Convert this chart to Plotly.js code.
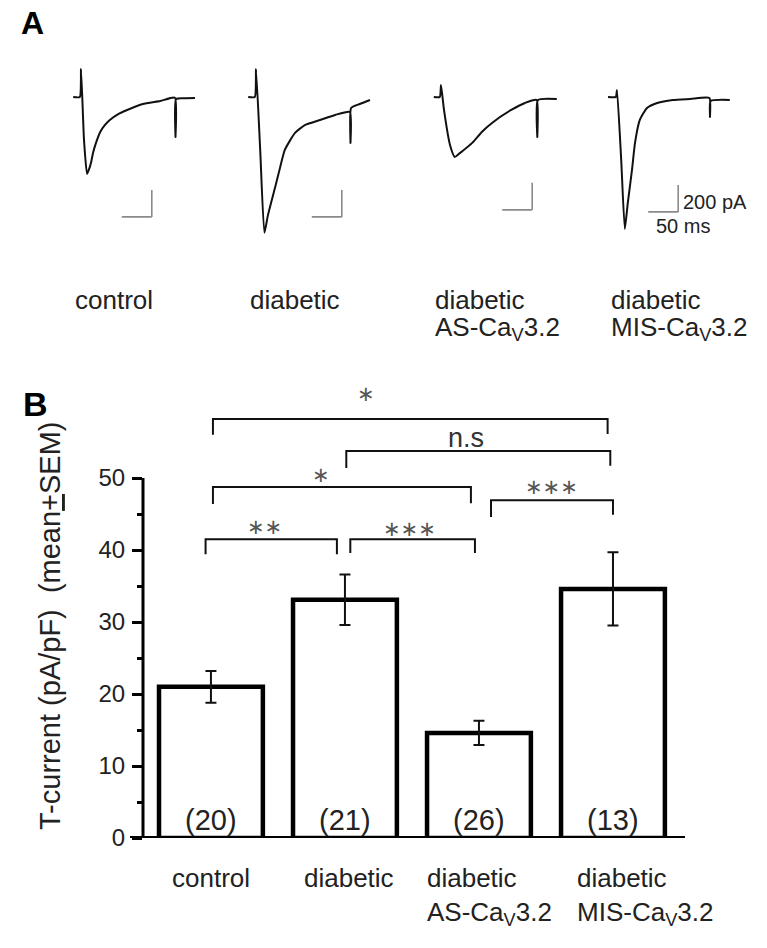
<!DOCTYPE html>
<html>
<head>
<meta charset="utf-8">
<script src="https://cdn.plot.ly/plotly-3.0.1.min.js"></script>
<style>html,body{margin:0;padding:0;background:#fff;}#chart{width:767px;height:948px;}</style>
</head>
<body>
<div id="chart"></div>
<script>
// ---------- Panel A: example current traces (time in ms, current in pA) ----------
const traceTime1 = [-13, -2, 0, 5, 10, 13, 17, 20, 25, 32, 40, 48, 62, 77, 103, 132, 156.5, 157.5, 158.5, 175, 190];
const traceCurr1 = [0, 0, 207, -318, -570, -540, -481, -414, -340, -259, -207, -170, -126, -96, -52, -30, -5, -296, -15, -10, -7];

const traceTime2 = [-13, -2, 0, 7, 14, 20, 32, 40, 48, 65, 82, 107, 132, 156.5, 157.5, 158.5, 173, 190];
const traceCurr2 = [0, 0, 207, -392, -1006, -873, -666, -525, -392, -266, -207, -170, -133, -111, -340, -81, -52, -22];

const traceTime3 = [-12, -2, 0, 5, 15, 23, 32, 52, 68, 85, 117, 140, 159.5, 160.5, 161.5, 193];
const traceCurr3 = [0, 0, 89, -96, -355, -444, -414, -340, -259, -192, -96, -44, -22, -296, -22, -15];

const traceTime4 = [-15, -2, 0, 7, 13, 18, 25, 30, 38, 50, 67, 93, 122, 154, 155, 156, 188];
const traceCurr4 = [0, 0, 52, -466, -977, -784, -540, -340, -170, -81, -44, -22, -15, -7, -148, -30, -22];

const traceTimes = [traceTime1, traceTime2, traceTime3, traceTime4];
const traceCurrs = [traceCurr1, traceCurr2, traceCurr3, traceCurr4];

// scale bars: 50 ms x 200 pA, start time and bottom current
const scaleBarT0 = [68, 93, 102, 52];
const scaleBarI0 = [-888, -888, -836, -851];
const scaleBarMs = 50;
const scaleBarPA = 200;

// ---------- Panel B: bar chart ----------
const catLine1 = ['control', 'diabetic', 'diabetic', 'diabetic'];
const catLine2 = ['', '', 'AS-Ca<sub>V</sub>3.2', 'MIS-Ca<sub>V</sub>3.2'];
const meanCurrent = [21.0, 33.1, 14.6, 34.6];
const semCurrent = [2.2, 3.5, 1.7, 5.1];
const nCells = ['(20)', '(21)', '(26)', '(13)'];
const yTickVals = [0, 10, 20, 30, 40, 50];
const yMinorVals = [5, 15, 25, 35, 45];

// significance brackets (category positions, heights in pA/pF)
const sigFrom   = [0.015, 1.01, 0.015, 2.09, -0.04, 1.04];
const sigTo     = [2.96, 2.98, 1.94, 3.0, 0.94, 1.97];
const sigTop    = [58.2, 53.75, 48.75, 46.9, 41.5, 41.5];
const sigLeftEnd  = [56.0, 51.4, 46.4, 44.6, 39.4, 39.6];
const sigRightEnd = [56.1, 51.7, 46.5, 44.9, 39.4, 39.6];
const sigLabel  = ['∗', 'n.s', '∗', '∗∗∗', '∗∗', '∗∗∗'];
const sigLabelX = [1.16, 1.9, 0.82, 2.54, 0.40, 1.48];
const sigLabelY = [61.6, 55.6, 50.4, 48.8, 43.2, 42.9];

// ---------- build ----------
const W = 767, H = 948;
const px = v => v / W;
const py = v => 1 - v / H;
const onsetPx = [81, 256, 441, 617];
const FONT = 'Liberation Sans, Arial, sans-serif';
const TXT = '#222';

const data = [];
const layout = {
  width: W, height: H,
  margin: {l: 0, r: 0, t: 0, b: 0},
  paper_bgcolor: '#fff', plot_bgcolor: 'rgba(0,0,0,0)',
  showlegend: false,
  font: {family: FONT, color: TXT},
  shapes: [], annotations: []
};

for (let k = 0; k < 4; k++) {
  const ax = k + 2;
  data.push({
    type: 'scatter', mode: 'lines',
    x: traceTimes[k], y: traceCurrs[k],
    xaxis: 'x' + ax, yaxis: 'y' + ax,
    line: {color: '#111', width: 2, shape: 'spline', smoothing: 0.5},
    hoverinfo: 'skip'
  });
  const hidden = {visible: false, showgrid: false, zeroline: false, fixedrange: true};
  layout['xaxis' + ax] = Object.assign({}, hidden, {
    domain: [px(onsetPx[k] - 12), px(onsetPx[k] + 120)], range: [-20, 200], anchor: 'y' + ax
  });
  layout['yaxis' + ax] = Object.assign({}, hidden, {
    domain: [py(245.5), py(56.5)], range: [-1100, 300], anchor: 'x' + ax
  });
  // scale bar
  const t0 = scaleBarT0[k], i0 = scaleBarI0[k];
  layout.shapes.push({type: 'line', xref: 'x' + ax, yref: 'y' + ax,
    x0: t0, x1: t0 + scaleBarMs, y0: i0, y1: i0, line: {color: '#8a8a8a', width: 1.6}});
  layout.shapes.push({type: 'line', xref: 'x' + ax, yref: 'y' + ax,
    x0: t0 + scaleBarMs, x1: t0 + scaleBarMs, y0: i0, y1: i0 + scaleBarPA, line: {color: '#8a8a8a', width: 1.6}});
  // labels under the traces
  layout.annotations.push({xref: 'x' + ax, yref: 'paper', x: -13, y: py(300), xanchor: 'left', yanchor: 'middle',
    text: catLine1[k], showarrow: false, font: {size: 26, color: TXT, family: FONT}});
  if (catLine2[k]) layout.annotations.push({xref: 'x' + ax, yref: 'paper', x: -13, y: py(328), xanchor: 'left', yanchor: 'middle',
    text: catLine2[k], showarrow: false, font: {size: 26, color: TXT, family: FONT}});
}
// scale bar labels on last trace
layout.annotations.push({xref: 'x5', yref: 'y5', x: scaleBarT0[3] + scaleBarMs, y: scaleBarI0[3] + scaleBarPA / 2,
  xanchor: 'left', yanchor: 'middle', xshift: 3, yshift: -4, text: scaleBarPA + ' pA', showarrow: false,
  font: {size: 20, color: TXT, family: FONT}});
layout.annotations.push({xref: 'x5', yref: 'y5', x: scaleBarT0[3], y: scaleBarI0[3],
  xanchor: 'left', yanchor: 'middle', xshift: 6, yshift: -14, text: scaleBarMs + ' ms', showarrow: false,
  font: {size: 20, color: TXT, family: FONT}});

// Panel B bars
const catIdx = [0, 1, 2, 3];
data.push({
  type: 'bar', x: catIdx, y: meanCurrent, width: 0.775,
  xaxis: 'x', yaxis: 'y',
  marker: {color: '#fff', line: {color: '#000', width: 4.5}},
  error_y: {type: 'data', array: semCurrent, visible: true, color: '#111', thickness: 2, width: 5.5},
  hoverinfo: 'skip'
});
layout.xaxis = {domain: [px(143), px(684)], range: [-0.507, 3.53], showgrid: false, zeroline: false,
  showline: false, showticklabels: false, ticks: '', fixedrange: true};
layout.yaxis = {domain: [py(838), py(391.6)], range: [0, 62], showgrid: false, zeroline: false, showline: false,
  tickmode: 'array', tickvals: yTickVals, ticktext: yTickVals.map(String), ticks: 'outside', ticklen: 10, tickwidth: 3,
  tickcolor: '#000', tickfont: {size: 24, color: TXT, family: FONT}, ticklabelstandoff: 2,
  minor: {tickvals: yMinorVals, ticks: 'outside', ticklen: 5, tickwidth: 3, tickcolor: '#000'},
  fixedrange: true};
// axis lines
layout.shapes.push({type: 'line', xref: 'paper', yref: 'y', x0: px(143), x1: px(143), y0: 0, y1: 50, line: {color: '#000', width: 3}});
layout.shapes.push({type: 'line', xref: 'paper', yref: 'y', x0: px(130), x1: px(685), y0: 0, y1: 0, line: {color: '#000', width: 4}});

// n labels inside bars
for (let i = 0; i < 4; i++) {
  layout.annotations.push({xref: 'x', yref: 'y', x: catIdx[i], y: 2.5, text: nCells[i], showarrow: false,
    yanchor: 'middle', font: {size: 29, color: '#222', family: FONT}});
}
// category labels
const catAnchorLeft = [false, false, true, true];
const catShift = [0, 4, -54, -38];
for (let i = 0; i < 4; i++) {
  layout.annotations.push({xref: 'x', yref: 'paper', x: catIdx[i], y: py(878), xshift: catShift[i],
    xanchor: catAnchorLeft[i] ? 'left' : 'center', yanchor: 'middle', text: catLine1[i], showarrow: false,
    font: {size: 26, color: TXT, family: FONT}});
  if (catLine2[i]) layout.annotations.push({xref: 'x', yref: 'paper', x: catIdx[i], y: py(913), xshift: catShift[i],
    xanchor: 'left', yanchor: 'middle', text: catLine2[i], showarrow: false,
    font: {size: 26, color: TXT, family: FONT}});
}
// significance brackets
for (let s = 0; s < sigFrom.length; s++) {
  layout.shapes.push({type: 'path', xref: 'x', yref: 'y',
    path: `M ${sigFrom[s]} ${sigLeftEnd[s]} L ${sigFrom[s]} ${sigTop[s]} L ${sigTo[s]} ${sigTop[s]} L ${sigTo[s]} ${sigRightEnd[s]}`,
    line: {color: '#111', width: 2}});
  const isNs = sigLabel[s] === 'n.s';
  layout.annotations.push({xref: 'x', yref: 'y', x: sigLabelX[s], y: sigLabelY[s], text: sigLabel[s], showarrow: false,
    yanchor: 'middle', font: {size: isNs ? 27 : 21, color: isNs ? '#333' : '#555', family: isNs ? FONT : 'DejaVu Sans, sans-serif'}});
}
// y title
layout.annotations.push({xref: 'paper', yref: 'paper', x: px(50), y: py(626), textangle: -90, showarrow: false,
  xanchor: 'center', yanchor: 'middle', text: 'T-current (pA/pF)  (mean<u>+</u>SEM)',
  font: {size: 29, color: TXT, family: FONT}});
// panel letters
layout.annotations.push({xref: 'paper', yref: 'paper', x: px(19), y: py(23), xanchor: 'left', yanchor: 'middle',
  text: '<b>A</b>', showarrow: false, font: {size: 32, color: '#000', family: FONT}});
layout.annotations.push({xref: 'paper', yref: 'paper', x: px(21), y: py(404), xanchor: 'left', yanchor: 'middle',
  text: '<b>B</b>', showarrow: false, font: {size: 34, color: '#000', family: FONT}});

Plotly.newPlot('chart', data, layout, {staticPlot: true, displayModeBar: false});
</script>
</body>
</html>
